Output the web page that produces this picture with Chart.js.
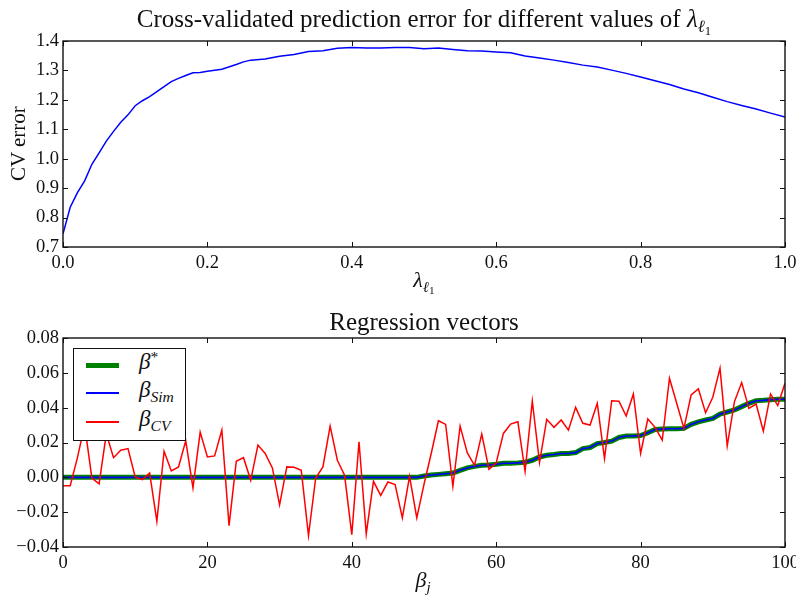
<!DOCTYPE html>
<html lang="en">
<head>
<meta charset="UTF-8">
<title>Cross-validated prediction error</title>
<script src="https://cdn.jsdelivr.net/npm/chart.js"></script>
<style>
  body { margin: 0; background: #fff; }
  #page { position: relative; width: 796px; height: 595px; overflow: hidden; font-family: 'Liberation Serif', 'DejaVu Serif', serif; color: #111; }
  .box { position: absolute; left: 0; width: 796px; }
  .lbl { position: absolute; white-space: nowrap; font-weight: normal; }
  .title { font-size: 25px; line-height: 26px; left: 63px; width: 722px; text-align: center; }
  .m { font-style: italic; }
  .s1 { font-size: 0.68em; position: relative; top: 0.32em; }
  .s2 { font-size: 0.75em; position: relative; top: 0.22em; font-style: normal; }
  .sup { font-size: 0.68em; position: relative; top: -0.45em; font-style: normal; }
  #ylab { left: 8px; top: 106px; width: 21px; height: 76px; font-size: 21px; line-height: 21px; writing-mode: vertical-rl; transform: rotate(180deg); text-align: center; }
  #legend { position: absolute; left: 73px; top: 348px; width: 111px; height: 91px; border: 1.3px solid #111; background: #fff; }
  .row { position: absolute; left: 0; width: 100%; height: 0; }
  .swatch { position: absolute; left: 12px; width: 33px; }
  .ltxt { position: absolute; left: 65px; font-size: 23px; line-height: 22px; font-style: italic; white-space: nowrap; }
</style>
</head>
<body>
<div id="page">
  <div class="box" style="top:0; height:270px;"><canvas id="cvChart" width="796" height="270"></canvas></div>
  <div class="box" style="top:300px; height:270px;"><canvas id="regChart" width="796" height="270"></canvas></div>

  <div class="lbl title" style="top:6px;">Cross-validated prediction error for different values of <span class="m">λ</span><span class="s1"><span class="m">ℓ</span><span class="s2">1</span></span></div>
  <div class="lbl" id="ylab">CV error</div>
  <div class="lbl" style="left:424px; top:269px; font-size:22px; line-height:22px; transform: translateX(-50%);"><span class="m">λ</span><span class="s1"><span class="m">ℓ</span><span class="s2">1</span></span></div>

  <div class="lbl title" style="top:309px;">Regression vectors</div>
  <div class="lbl" style="left:423px; top:569px; font-size:22px; line-height:22px; transform: translateX(-50%);"><span class="m">β</span><span class="s1 m">j</span></div>

  <div id="legend">
    <div class="row" style="top:16px;"><div class="swatch" style="top:-2px; height:5px; background:#008000;"></div><div class="ltxt" style="top:-14px;">β<span class="sup">*</span></div></div>
    <div class="row" style="top:44px;"><div class="swatch" style="top:-1px; height:1.6px; background:#0000ff;"></div><div class="ltxt" style="top:-14px;">β<span class="s1">Sim</span></div></div>
    <div class="row" style="top:73px;"><div class="swatch" style="top:-1px; height:1.6px; background:#ff0000;"></div><div class="ltxt" style="top:-14px;">β<span class="s1">CV</span></div></div>
  </div>
</div>

<script>
// top panel: CV error against lambda
const lam = [0.00, 0.01, 0.02, 0.03, 0.04, 0.05, 0.06, 0.07, 0.08, 0.09, 0.10,
             0.11, 0.12, 0.13, 0.14, 0.15, 0.16, 0.17, 0.18, 0.19, 0.20,
             0.22, 0.24, 0.25, 0.26, 0.28, 0.30, 0.32, 0.34, 0.36, 0.38, 0.40,
             0.42, 0.44, 0.46, 0.48, 0.50, 0.52, 0.54, 0.56, 0.58, 0.60,
             0.62, 0.64, 0.66, 0.68, 0.70, 0.72, 0.74, 0.76, 0.78, 0.80,
             0.82, 0.84, 0.86, 0.88, 0.90, 0.92, 0.94, 0.96, 0.98, 1.00];
const cvErr = [0.745, 0.835, 0.885, 0.925, 0.981, 1.020, 1.060, 1.093, 1.124, 1.149, 1.180,
               1.197, 1.211, 1.228, 1.245, 1.262, 1.273, 1.283, 1.292, 1.293, 1.297,
               1.304, 1.320, 1.329, 1.335, 1.339, 1.348, 1.354, 1.364, 1.367, 1.375, 1.378,
               1.376, 1.376, 1.378, 1.378, 1.374, 1.376, 1.371, 1.367, 1.366, 1.363,
               1.360, 1.349, 1.342, 1.335, 1.327, 1.318, 1.312, 1.301, 1.290, 1.278,
               1.265, 1.252, 1.237, 1.224, 1.209, 1.194, 1.181, 1.169, 1.155, 1.142];

// bottom panel: regression vectors, index 0..100
const betaTrue = [0, 0, 0, 0, 0, 0, 0, 0, 0, 0, 0, 0, 0, 0, 0, 0, 0, 0, 0, 0,
                  0, 0, 0, 0, 0, 0, 0, 0, 0, 0, 0, 0, 0, 0, 0, 0, 0, 0, 0, 0,
                  0, 0, 0, 0, 0, 0, 0, 0, 0, 0,
                  0.0008, 0.0013, 0.0017, 0.0021, 0.0025, 0.0040, 0.0054, 0.0063, 0.0069, 0.0071,
                  0.0075, 0.0081, 0.0081, 0.0083, 0.0087, 0.0098, 0.0117, 0.0127, 0.0131, 0.0137,
                  0.0137, 0.0142, 0.0165, 0.0171, 0.0194, 0.0200, 0.0208, 0.0229, 0.0237, 0.0238,
                  0.0240, 0.0256, 0.0275, 0.0277, 0.0279, 0.0279, 0.0281, 0.0304, 0.0319, 0.0329,
                  0.0338, 0.0363, 0.0375, 0.0387, 0.0406, 0.0425, 0.0440, 0.0442, 0.0446, 0.0448,
                  0.0448];
const betaSim = [0, 0, 0, 0, 0, 0, 0, 0, 0, 0, 0, 0, 0, 0, 0, 0, 0, 0, 0, 0,
                 0, 0, 0, 0, 0, 0, 0, 0, 0, 0, 0, 0, 0, 0, 0, 0, 0, 0, 0, 0,
                 0, 0, 0, 0, 0, 0, 0, 0, 0, 0,
                 0.0008, 0.0013, 0.0017, 0.0021, 0.0025, 0.0040, 0.0054, 0.0063, 0.0069, 0.0071,
                 0.0075, 0.0081, 0.0081, 0.0083, 0.0087, 0.0098, 0.0117, 0.0127, 0.0131, 0.0137,
                 0.0137, 0.0142, 0.0165, 0.0171, 0.0194, 0.0200, 0.0208, 0.0229, 0.0237, 0.0238,
                 0.0240, 0.0256, 0.0275, 0.0277, 0.0279, 0.0279, 0.0281, 0.0304, 0.0319, 0.0329,
                 0.0338, 0.0363, 0.0375, 0.0387, 0.0406, 0.0425, 0.0440, 0.0442, 0.0446, 0.0448,
                 0.0448];
const betaCV = [-0.0048, -0.0048, 0.0113, 0.0300, -0.0005, -0.0037, 0.0250, 0.0113, 0.0156, 0.0165,
                0.0002, -0.0013, 0.0025, -0.0252, 0.0150, 0.0037, 0.0060, 0.0210, -0.0060, 0.0260,
                0.0117, 0.0123, 0.0271, -0.0277, 0.0092, 0.0113, -0.0017, 0.0185, 0.0137, 0.0054,
                -0.0158, 0.0060, 0.0058, 0.0040, -0.0335, -0.0004, 0.0060, 0.0294, 0.0098, 0.0012,
                -0.0329, 0.0204, -0.0325, -0.0023, -0.0104, -0.0027, -0.0042, -0.0233, 0.0006, -0.0233,
                -0.0040, 0.0137, 0.0325, 0.0304, -0.0052, 0.0294, 0.0140, 0.0069, 0.0248, 0.0046,
                0.0083, 0.0252, 0.0306, 0.0319, 0.0035, 0.0438, 0.0085, 0.0333, 0.0287, 0.0329,
                0.0271, 0.0402, 0.0310, 0.0300, 0.0425, 0.0108, 0.0440, 0.0437, 0.0352, 0.0479,
                0.0137, 0.0335, 0.0287, 0.0213, 0.0569, 0.0425, 0.0281, 0.0473, 0.0508, 0.0371,
                0.0460, 0.0627, 0.0181, 0.0435, 0.0544, 0.0396, 0.0421, 0.0265, 0.0479, 0.0412,
                0.0540];

Chart.defaults.font.family = "'Liberation Serif', 'DejaVu Serif', serif";
Chart.defaults.color = '#111';
Chart.defaults.animation = false;

// matplotlib-like frame with ticks pointing inwards on all four sides
const frame = {
  id: 'frame',
  afterDatasetsDraw(chart) {
    const { ctx, chartArea: a, scales: { x, y } } = chart;
    ctx.save();
    ctx.strokeStyle = '#111';
    ctx.lineWidth = 1;
    ctx.beginPath();
    x.ticks.forEach(t => {
      const px = Math.round(x.getPixelForValue(t.value)) + 0.5;
      ctx.moveTo(px, a.bottom); ctx.lineTo(px, a.bottom - 5);
      ctx.moveTo(px, a.top); ctx.lineTo(px, a.top + 5);
    });
    y.ticks.forEach(t => {
      const py = Math.round(y.getPixelForValue(t.value)) + 0.5;
      ctx.moveTo(a.left, py); ctx.lineTo(a.left + 5, py);
      ctx.moveTo(a.right, py); ctx.lineTo(a.right - 5, py);
    });
    ctx.stroke();
    ctx.lineWidth = 1.4;
    ctx.strokeRect(a.left, a.top, a.right - a.left, a.bottom - a.top);
    ctx.restore();
  }
};

const minus = s => s.replace('-', '\u2212');

function axes(xmin, xmax, xstep, xfmt, ymin, ymax, ystep, yfmt) {
  return {
    x: {
      type: 'linear', min: xmin, max: xmax,
      grid: { display: false, drawTicks: false }, border: { display: false },
      ticks: { stepSize: xstep, padding: 5, maxRotation: 0, font: { size: 18.5 }, callback: v => minus(xfmt(v)) },
      afterFit: s => { s.height = 23; s.paddingLeft = 0; s.paddingRight = 0; }
    },
    y: {
      type: 'linear', min: ymin, max: ymax,
      grid: { display: false, drawTicks: false }, border: { display: false },
      ticks: { stepSize: ystep, padding: 4, font: { size: 18.5 }, callback: v => minus(yfmt(v)) },
      afterFit: s => { s.width = 63; s.paddingTop = 0; s.paddingBottom = 0; }
    }
  };
}

new Chart(document.getElementById('cvChart'), {
  type: 'line',
  data: {
    datasets: [{
      data: lam.map((v, i) => ({ x: v, y: cvErr[i] })),
      borderColor: '#0000ff', borderWidth: 1.5, pointRadius: 0, tension: 0, fill: false
    }]
  },
  options: {
    responsive: false,
    layout: { padding: { top: 41, right: 11, left: 0, bottom: 0 } },
    plugins: { legend: { display: false }, tooltip: { enabled: false } },
    scales: axes(0, 1, 0.2, v => v.toFixed(1), 0.7, 1.4, 0.1, v => v.toFixed(1))
  },
  plugins: [frame]
});

const idx = betaCV.map((v, i) => i);

new Chart(document.getElementById('regChart'), {
  type: 'line',
  data: {
    datasets: [
      { label: 'beta*', order: 2, data: idx.map(i => ({ x: i, y: betaTrue[i] })),
        borderColor: '#008000', borderWidth: 5, pointRadius: 0, tension: 0, fill: false },
      { label: 'beta Sim', order: 1, data: idx.map(i => ({ x: i, y: betaSim[i] })),
        borderColor: '#0000ff', borderWidth: 1.6, pointRadius: 0, tension: 0, fill: false },
      { label: 'beta CV', order: 0, data: idx.map(i => ({ x: i, y: betaCV[i] })),
        borderColor: '#ff0000', borderWidth: 1.5, pointRadius: 0, tension: 0, fill: false }
    ]
  },
  options: {
    responsive: false,
    layout: { padding: { top: 38, right: 11, left: 0, bottom: 0 } },
    plugins: { legend: { display: false }, tooltip: { enabled: false } },
    scales: axes(0, 100, 20, v => String(Math.round(v)), -0.04, 0.08, 0.02,
                 v => Math.abs(v) < 1e-9 ? '0.00' : v.toFixed(2))
  },
  plugins: [frame]
});
</script>
</body>
</html>
